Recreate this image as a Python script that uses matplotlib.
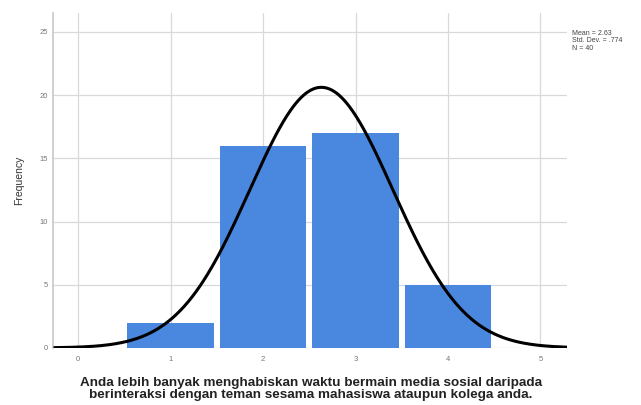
"""Histogram with normal curve, SPSS style."""

import matplotlib.pyplot as plt
import numpy as np

# Data
categories = [1, 2, 3, 4]
frequencies = [2, 16, 17, 5]
mean = 2.63
std_dev = 0.774
n_total = 40
stats_lines = ["Mean = 2.63", "Std. Dev. = .774", "N = 40"]
xlabel_text = (
    "Anda lebih banyak menghabiskan waktu bermain media sosial daripada\n"
    "berinteraksi dengan teman sesama mahasiswa ataupun kolega anda."
)

plt.rcParams["font.family"] = ["Liberation Sans", "DejaVu Sans"]

fig = plt.figure(figsize=(6.41, 4.05), dpi=100)
ax = fig.add_axes([0.083, 0.141, 0.802, 0.827])

ax.bar(categories, frequencies, width=0.935, color="#4a88e0", zorder=2)

# normal curve scaled to counts (bin width = 1)
xs = np.linspace(-0.25, 5.28, 400)
curve = n_total / (std_dev * np.sqrt(2 * np.pi)) * np.exp(-0.5 * ((xs - mean) / std_dev) ** 2)
ax.plot(xs, curve, color="black", linewidth=2.2, zorder=3)

ax.set_xlim(-0.27, 5.29)
ax.set_ylim(0, 26.5)
ax.set_xticks(range(0, 6))
ax.set_yticks(range(0, 26, 5))
ax.grid(True, color="#d9d9d9", linewidth=0.9, zorder=0)
ax.set_axisbelow(True)

for side in ["top", "right", "bottom"]:
    ax.spines[side].set_visible(False)
ax.spines["left"].set_color("#c8c8c8")
ax.spines["left"].set_linewidth(1.2)

ax.tick_params(axis="both", length=0, labelsize=5.5, labelcolor="#777777")
ax.tick_params(axis="x", pad=6)
ax.tick_params(axis="y", pad=4)

ax.set_ylabel("Frequency", fontsize=7.5, color="#333333", labelpad=11)

fig.text(0.485, 0.04, xlabel_text, fontsize=9.7, fontweight="bold",
         color="#222222", ha="center", va="center", linespacing=0.95)

fig.text(0.893, 0.899, "\n".join(stats_lines), fontsize=5, color="#444444",
         va="center", ha="left", linespacing=1.1)

fig.savefig("out.png", dpi=100)
